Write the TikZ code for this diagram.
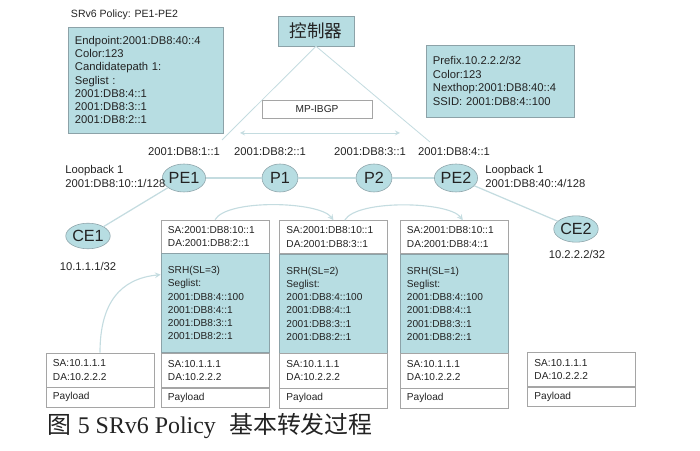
\documentclass[tikz,border=0pt]{standalone}
\usepackage{fontspec}
\setmainfont{Liberation Sans}
\newfontfamily\cjk{Noto Sans CJK SC}
\newfontfamily\capserif{Liberation Serif}
\usetikzlibrary{positioning,shapes.geometric}
\definecolor{boxblue}{RGB}{183,221,226}
\definecolor{boxedge}{RGB}{140,162,168}
\definecolor{pktedge}{RGB}{165,165,165}
\definecolor{linkgray}{RGB}{196,220,224}
\definecolor{inkgray}{RGB}{35,35,35}

\begin{document}
\begin{tikzpicture}[x=0.025cm,y=-0.025cm,text=inkgray,
	small/.style={font=\fontsize{7.2}{9.4}\selectfont},
	mid/.style={font=\fontsize{8}{9.4}\selectfont},
	link/.style={draw=linkgray,line width=0.9pt},
	flow/.style={draw=linkgray,line width=0.8pt,-stealth},
	rtr/.style={ellipse,draw=boxedge,fill=boxblue,minimum width=0.9cm,minimum height=0.7cm,inner sep=0pt,font=\fontsize{11.5}{13}\selectfont},
	pkt/.style={draw=pktedge,minimum width=2.7cm,text width=2.35cm,inner xsep=5pt,inner ysep=0pt,align=left,small},
	hdr/.style={pkt,fill=white,minimum height=0.825cm},
	srh/.style={pkt,draw=boxedge,fill=boxblue,minimum height=2.475cm},
	ip/.style={pkt,fill=white,minimum height=0.86cm},
	pay/.style={pkt,fill=white,minimum height=0.48cm},
	infobox/.style={draw=boxedge,fill=boxblue,inner xsep=0.175cm,inner ysep=0pt,align=left,mid}]
			\useasboundingbox (0,0) rectangle (700,451);
			% controller and MP-IBGP
			\node[draw=boxedge,fill=boxblue,minimum width=1.9cm,minimum height=0.75cm,font=\cjk\fontsize{12.5}{14}\selectfont] (ctl) at (316,31) {控制器};
			\coordinate (tl) at (222,140);
			\coordinate (tr) at (430,142);
			\draw[link,line width=0.6pt] (tl) -- (ctl.south) -- (tr);
			\node[draw=pktedge,fill=white,minimum width=2.75cm,minimum height=0.45cm,small] (bgp) at (317,109) {MP-IBGP};
			\coordinate (bl) at (240,133);
			\coordinate (br) at (400,133);
			\draw[link,line width=0.6pt,stealth-stealth] (bl) -- (br);
			\node[anchor=west,font=\fontsize{7.5}{9}\selectfont] (pname) at (66,15) {SRv6 Policy: PE1-PE2};
			\node[infobox,minimum width=3.875cm,minimum height=2.65cm,text width=3.525cm] (pol) at (145.5,80) {Endpoint:2001:DB8:40::4\\Color:123\\Candidatepath 1:\\Seglist :\\2001:DB8:4::1\\2001:DB8:3::1\\2001:DB8:2::1};
			\node[infobox,minimum width=3.7cm,minimum height=1.8cm,text width=3.35cm,font=\fontsize{8}{9.8}\selectfont] (pfx) at (500,81) {Prefix.10.2.2.2/32\\Color:123\\Nexthop:2001:DB8:40::4\\SSID: 2001:DB8:4::100};
			% routers
			\node[rtr] (pe1) at (184,178) {PE1};
			\node[rtr] (p1) at (280,178) {P1};
			\node[rtr] (p2) at (374,178) {P2};
			\node[rtr] (pe2) at (456,178) {PE2};
			\node[rtr,minimum width=0.82cm,minimum height=0.64cm] (ce1) at (88,236) {CE1};
			\node[rtr,minimum width=0.82cm,minimum height=0.66cm] (ce2) at (576,229) {CE2};
			\draw[link] (pe1) -- (p1) -- (p2) -- (pe2);
			\draw[link] (pe1) -- (ce1);
			\draw[link] (pe2) -- (ce2);
			\node[mid] (a1) at (184,152) {2001:DB8:1::1};
			\node[mid] (a2) at (270,152) {2001:DB8:2::1};
			\node[mid] (a3) at (370,152) {2001:DB8:3::1};
			\node[mid] (a4) at (454,152) {2001:DB8:4::1};
			\node[mid,anchor=west,align=left,inner sep=0pt] (lb1) at (65,176.5) {Loopback 1\\2001:DB8:10::1/128};
			\node[mid,anchor=west,align=left,inner sep=0pt] (lb2) at (485,176.5) {Loopback 1\\2001:DB8:40::4/128};
			\node[mid] (n1) at (88,266) {10.1.1.1/32};
			\node[mid] (n2) at (577,254) {10.2.2.2/32};
			% packets
			\node[ip] (i0) at (100,370) {SA:10.1.1.1\\DA:10.2.2.2};
			\node[pay,below=0pt of i0] (d0) {Payload};
			\node[hdr] (h1) at (215,236.5) {SA:2001:DB8:10::1\\DA:2001:DB8:2::1};
			\node[srh,below=0pt of h1] (s1) {SRH(SL=3)\\Seglist:\\2001:DB8:4::100\\2001:DB8:4::1\\2001:DB8:3::1\\2001:DB8:2::1};
			\node[ip,below=0pt of s1] (i1) {SA:10.1.1.1\\DA:10.2.2.2};
			\node[pay,below=0pt of i1] (d1) {Payload};
			\node[hdr] (h2) at (333.5,237) {SA:2001:DB8:10::1\\DA:2001:DB8:3::1};
			\node[srh,below=0pt of h2] (s2) {SRH(SL=2)\\Seglist:\\2001:DB8:4::100\\2001:DB8:4::1\\2001:DB8:3::1\\2001:DB8:2::1};
			\node[ip,below=0pt of s2] (i2) {SA:10.1.1.1\\DA:10.2.2.2};
			\node[pay,below=0pt of i2] (d2) {Payload};
			\node[hdr] (h3) at (454,237) {SA:2001:DB8:10::1\\DA:2001:DB8:4::1};
			\node[srh,below=0pt of h3] (s3) {SRH(SL=1)\\Seglist:\\2001:DB8:4::100\\2001:DB8:4::1\\2001:DB8:3::1\\2001:DB8:2::1};
			\node[ip,below=0pt of s3] (i3) {SA:10.1.1.1\\DA:10.2.2.2};
			\node[pay,below=0pt of i3] (d3) {Payload};
			\node[ip] (i4) at (581.5,369.5) {SA:10.1.1.1\\DA:10.2.2.2};
			\node[pay,below=0pt of i4] (d4) {Payload};
			\draw[flow] (i0.north) .. controls +(0,-50) and +(-40,4) .. ([yshift=0.71cm]s1.west);
			\draw[flow] (h1.north) .. controls +(12,-21) and +(-14,-19) .. (h2.north);
			\draw[flow] ([xshift=0.28cm]h2.north) .. controls +(12,-21) and +(-14,-19) .. ([xshift=0.22cm]h3.north);
			% caption
			\node[anchor=west,inner sep=0pt,font=\fontsize{17}{20}\selectfont] (cap) at (47,426) {{\cjk 图} {\capserif 5 SRv6 Policy}\ \ {\cjk 基本转发过程}};
		\end{tikzpicture}
\end{document}
